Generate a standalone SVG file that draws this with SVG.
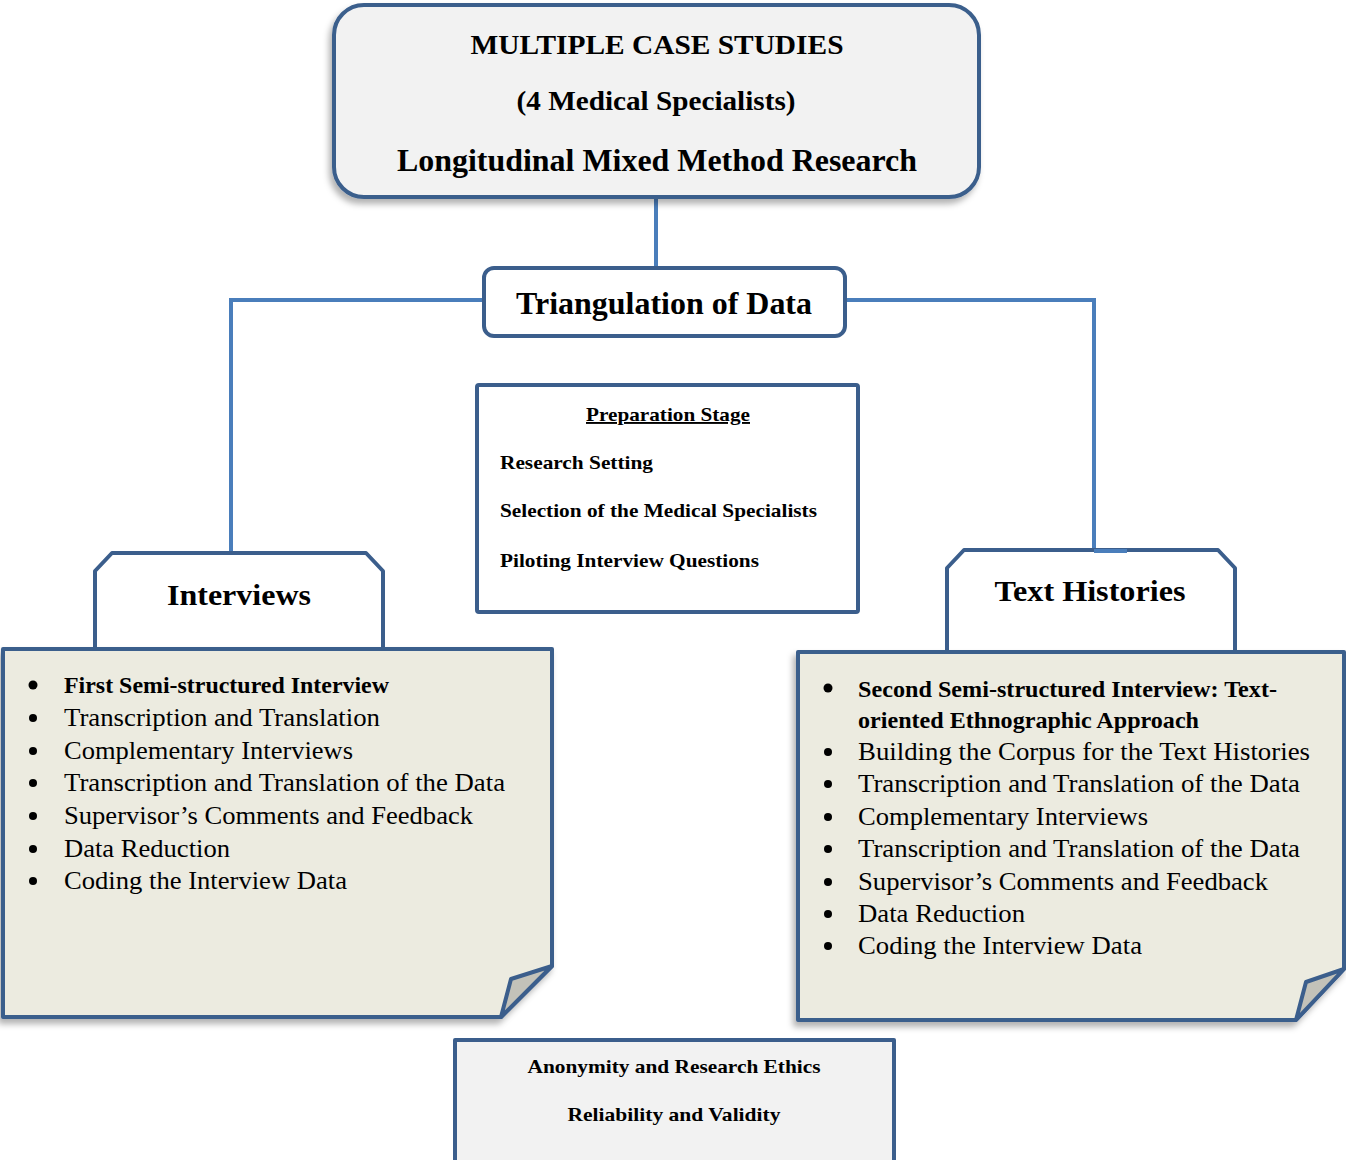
<svg xmlns="http://www.w3.org/2000/svg" width="1346" height="1160" viewBox="0 0 1346 1160">
<defs>
<filter id="sh" x="-10%" y="-10%" width="120%" height="125%">
<feDropShadow dx="-3" dy="5" stdDeviation="3" flood-color="#000" flood-opacity="0.3"/>
</filter>
</defs>
<style>
.b{stroke:#3b5e8c;stroke-width:4;stroke-linejoin:round}
.c{stroke:#4a7ebb;stroke-width:4;fill:none}
.t{font-family:"Liberation Serif","Times New Roman",serif;fill:#000}
.bd{font-weight:bold}
.li{font-size:25px}
.lb{font-size:23px;font-weight:bold}
.p{font-size:19px;font-weight:bold}
.dot{fill:#000}
</style>
<rect width="1346" height="1160" fill="#fff"/>

<g id="connectors">
<line class="c" x1="656" y1="197" x2="656" y2="268"/>
<polyline class="c" points="484,300 231,300 231,553"/>
<polyline class="c" points="845,300 1094,300 1094,551"/>
</g>

<g id="top">
<rect class="b" x="334" y="5" width="645" height="192" rx="30" fill="#f2f2f2" filter="url(#sh)"/>
<text class="t bd" x="657" y="54" font-size="27" text-anchor="middle" textLength="373" lengthAdjust="spacingAndGlyphs">MULTIPLE CASE STUDIES</text>
<text class="t bd" x="656" y="110" font-size="27" text-anchor="middle" textLength="279" lengthAdjust="spacingAndGlyphs">(4 Medical Specialists)</text>
<text class="t bd" x="657" y="171" font-size="31" text-anchor="middle" textLength="520" lengthAdjust="spacingAndGlyphs">Longitudinal Mixed Method Research</text>
</g>

<g id="triangulation">
<rect class="b" x="484" y="268" width="361" height="68" rx="10" fill="#fff"/>
<text class="t bd" x="664" y="314" font-size="32" text-anchor="middle" textLength="296" lengthAdjust="spacingAndGlyphs">Triangulation of Data</text>
</g>

<g id="preparation">
<rect class="b" x="477" y="385" width="381" height="227" rx="2" fill="#fff"/>
<text class="t p" x="668" y="421" text-anchor="middle" textLength="164" lengthAdjust="spacingAndGlyphs" text-decoration="underline">Preparation Stage</text>
<text class="t p" x="500" y="469" textLength="153" lengthAdjust="spacingAndGlyphs">Research Setting</text>
<text class="t p" x="500" y="517" textLength="317" lengthAdjust="spacingAndGlyphs">Selection of the Medical Specialists</text>
<text class="t p" x="500" y="567" textLength="259" lengthAdjust="spacingAndGlyphs">Piloting Interview Questions</text>
</g>

<g id="interviews">
<path class="b" d="M95,649 V571 L112,553 H366 L383,571 V649" fill="#fff"/>
<text class="t bd" x="239" y="605" font-size="30" text-anchor="middle" textLength="144" lengthAdjust="spacingAndGlyphs">Interviews</text>
<path class="b" d="M3,649 H552 V966 L501,1017 H3 Z" fill="#ecebe0" filter="url(#sh)"/>
<path class="b" d="M501,1017 L511,979 L552,966 Z" fill="#c3c2b9"/>
<g class="t">
<circle class="dot" cx="33" cy="685" r="4.5"/>
<text class="lb" x="64" y="693" textLength="325" lengthAdjust="spacingAndGlyphs">First Semi-structured Interview</text>
<circle class="dot" cx="33" cy="718" r="4"/>
<text class="li" x="64" y="726" textLength="316" lengthAdjust="spacingAndGlyphs">Transcription and Translation</text>
<circle class="dot" cx="33" cy="751" r="4"/>
<text class="li" x="64" y="759" textLength="289" lengthAdjust="spacingAndGlyphs">Complementary Interviews</text>
<circle class="dot" cx="33" cy="783" r="4"/>
<text class="li" x="64" y="791" textLength="441" lengthAdjust="spacingAndGlyphs">Transcription and Translation of the Data</text>
<circle class="dot" cx="33" cy="816" r="4"/>
<text class="li" x="64" y="824" textLength="409" lengthAdjust="spacingAndGlyphs">Supervisor’s Comments and Feedback</text>
<circle class="dot" cx="33" cy="849" r="4"/>
<text class="li" x="64" y="857" textLength="166" lengthAdjust="spacingAndGlyphs">Data Reduction</text>
<circle class="dot" cx="33" cy="881" r="4"/>
<text class="li" x="64" y="889" textLength="283" lengthAdjust="spacingAndGlyphs">Coding the Interview Data</text>
</g>
</g>

<g id="text-histories">
<path class="b" d="M947,651 V568 L964,550 H1218 L1235,568 V651" fill="#fff"/>
<line x1="1094" y1="551" x2="1127" y2="551" stroke="#4a7ebb" stroke-width="4"/>
<text class="t bd" x="1090" y="601" font-size="30" text-anchor="middle" textLength="191" lengthAdjust="spacingAndGlyphs">Text Histories</text>
<path class="b" d="M798,652 H1344 V969 L1296,1020 H798 Z" fill="#ecebe0" filter="url(#sh)"/>
<path class="b" d="M1296,1020 L1306,982 L1344,969 Z" fill="#c3c2b9"/>
<g class="t">
<circle class="dot" cx="828" cy="688" r="4.5"/>
<text class="lb" x="858" y="697" textLength="419" lengthAdjust="spacingAndGlyphs">Second Semi-structured Interview: Text-</text>
<text class="lb" x="858" y="728" textLength="341" lengthAdjust="spacingAndGlyphs">oriented Ethnographic Approach</text>
<circle class="dot" cx="828" cy="752" r="4"/>
<text class="li" x="858" y="760" textLength="452" lengthAdjust="spacingAndGlyphs">Building the Corpus for the Text Histories</text>
<circle class="dot" cx="828" cy="784" r="4"/>
<text class="li" x="858" y="792" textLength="442" lengthAdjust="spacingAndGlyphs">Transcription and Translation of the Data</text>
<circle class="dot" cx="828" cy="817" r="4"/>
<text class="li" x="858" y="825" textLength="290" lengthAdjust="spacingAndGlyphs">Complementary Interviews</text>
<circle class="dot" cx="828" cy="849" r="4"/>
<text class="li" x="858" y="857" textLength="442" lengthAdjust="spacingAndGlyphs">Transcription and Translation of the Data</text>
<circle class="dot" cx="828" cy="882" r="4"/>
<text class="li" x="858" y="890" textLength="410" lengthAdjust="spacingAndGlyphs">Supervisor’s Comments and Feedback</text>
<circle class="dot" cx="828" cy="914" r="4"/>
<text class="li" x="858" y="922" textLength="167" lengthAdjust="spacingAndGlyphs">Data Reduction</text>
<circle class="dot" cx="828" cy="946" r="4"/>
<text class="li" x="858" y="954" textLength="284" lengthAdjust="spacingAndGlyphs">Coding the Interview Data</text>
</g>
</g>

<g id="ethics">
<rect class="b" x="455" y="1040" width="439" height="124" fill="#f2f2f2"/>
<text class="t p" x="674" y="1073" text-anchor="middle" textLength="293" lengthAdjust="spacingAndGlyphs">Anonymity and Research Ethics</text>
<text class="t p" x="674" y="1121" text-anchor="middle" textLength="213" lengthAdjust="spacingAndGlyphs">Reliability and Validity</text>
</g>
</svg>
